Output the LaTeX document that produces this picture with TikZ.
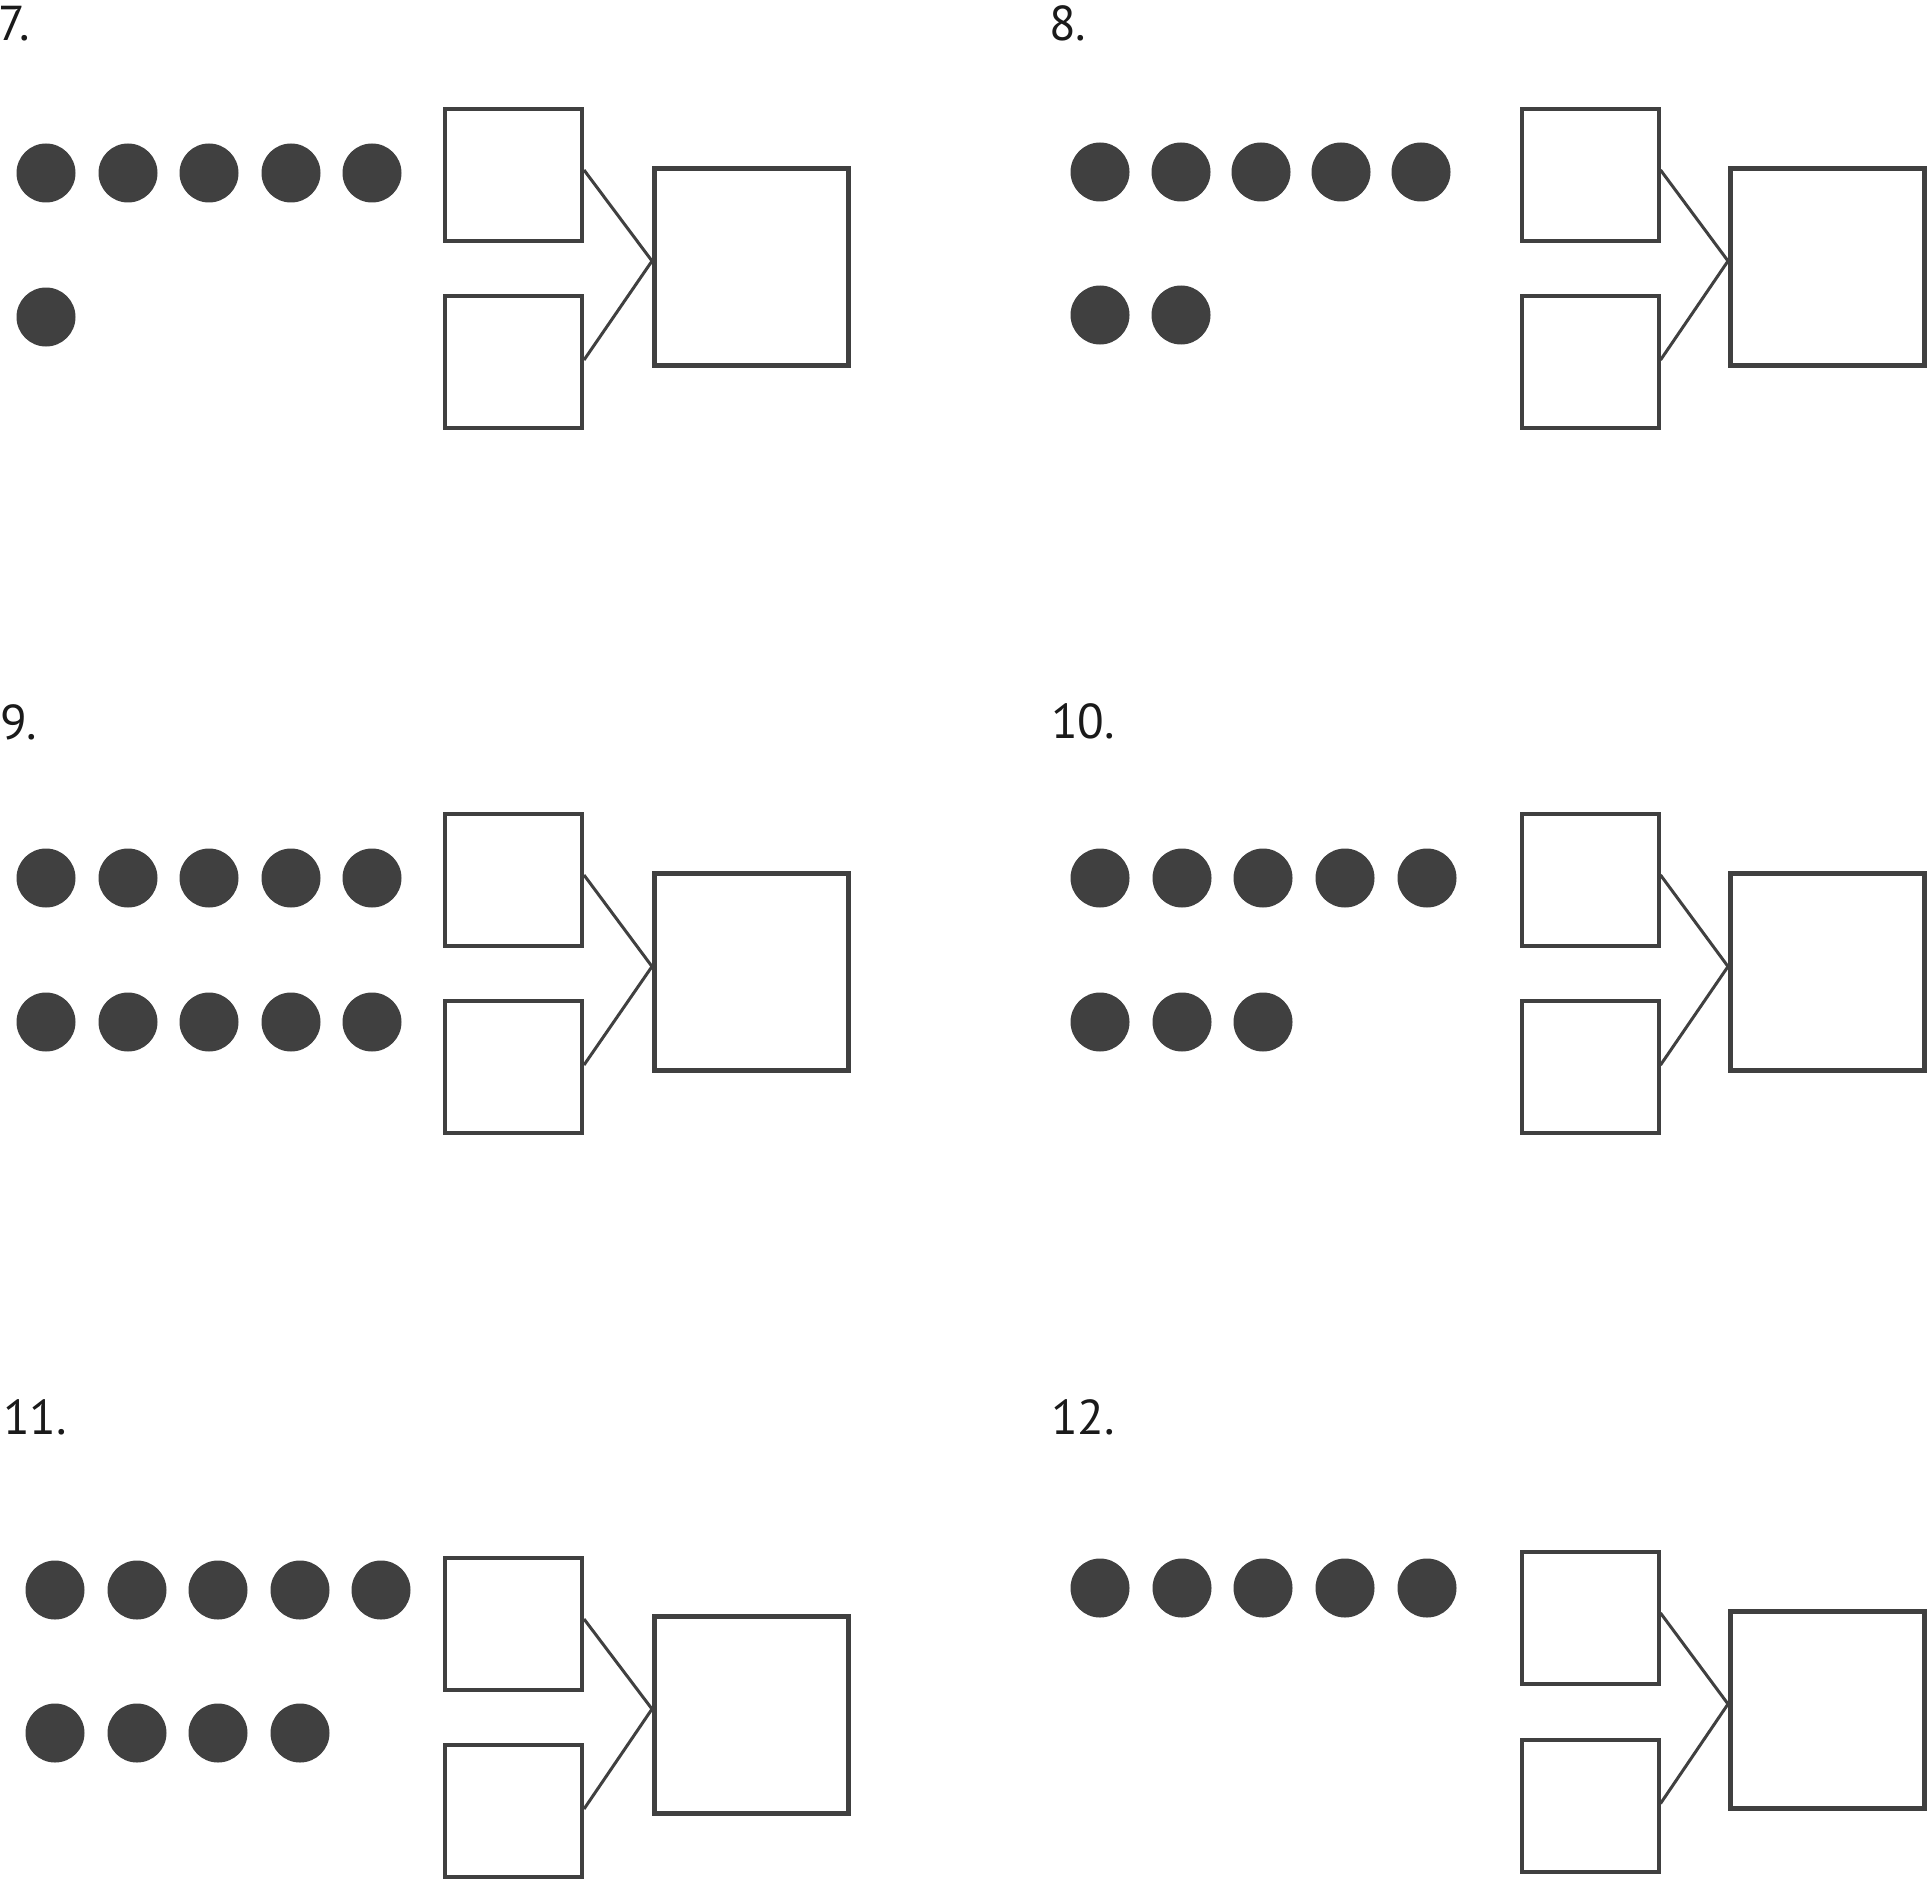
\documentclass[tikz,border=0pt]{standalone}
\usepackage{fontspec}
\setmainfont{PT Sans}
\definecolor{ink}{HTML}{404040}
\definecolor{txt}{HTML}{1A1A1A}
\tikzset{
  dot/.style={circle,fill=ink,draw=none,minimum size=59pt,inner sep=0pt},
  smallbox/.style={rectangle,draw=ink,line width=4pt,minimum width=137pt,minimum height=132pt,inner sep=0pt},
  bigbox/.style={rectangle,draw=ink,line width=5pt,minimum width=194pt,minimum height=197pt,inner sep=0pt},
  link/.style={draw=ink,line width=3pt,line join=miter},
  lbl/.style={anchor=base west,inner sep=0pt,text=txt,font=\fontsize{49}{54}\selectfont}
}
\begin{document}
\begin{tikzpicture}[x=1pt,y=-1pt]
\useasboundingbox[fill=white] (0,0) rectangle (1932,1886);

% ---------- labels ----------
\node[lbl] (l7) at (-2,41) {7.};
\node[lbl] (l8) at (1049,41) {8.};
\node[lbl] (l9) at (0,739) {9.};
\node[lbl] (l10) at (1051,738) {10.};
\node[lbl] (l11) at (3,1434) {11.};
\node[lbl] (l12) at (1051,1434) {12.};

% ---------- panel 7 ----------
\foreach \x [count=\i] in {46,128,209,291,372} \node[dot] (p7a\i) at (\x,173) {};
\node[dot] (p7b1) at (46,317) {};
\node[smallbox] (t7) at (513.5,175) {};
\node[smallbox] (s7) at (513.5,362) {};
\node[bigbox] (g7) at (751.5,267) {};
\draw[link] ([yshift=5pt]t7.east) -- ([yshift=6pt]g7.west) -- ([yshift=2pt]s7.east);

% ---------- panel 8 ----------
\foreach \x [count=\i] in {1100,1181,1261,1341,1421} \node[dot] (p8a\i) at (\x,172) {};
\foreach \x [count=\i] in {1100,1181} \node[dot] (p8b\i) at (\x,315) {};
\node[smallbox] (t8) at (1590,175) {};
\node[smallbox] (s8) at (1590,362) {};
\node[bigbox] (g8) at (1827.5,267) {};
\draw[link] ([yshift=5pt]t8.east) -- ([yshift=6pt]g8.west) -- ([yshift=2pt]s8.east);

% ---------- panel 9 ----------
\foreach \x [count=\i] in {46,128,209,291,372} \node[dot] (p9a\i) at (\x,878) {};
\foreach \x [count=\i] in {46,128,209,291,372} \node[dot] (p9b\i) at (\x,1022) {};
\node[smallbox] (t9) at (513.5,880) {};
\node[smallbox] (s9) at (513.5,1067) {};
\node[bigbox] (g9) at (751.5,971.5) {};
\draw[link] ([yshift=5pt]t9.east) -- ([yshift=5pt]g9.west) -- ([yshift=2pt]s9.east);

% ---------- panel 10 ----------
\foreach \x [count=\i] in {1100,1182,1263,1345,1427} \node[dot] (p10a\i) at (\x,878) {};
\foreach \x [count=\i] in {1100,1182,1263} \node[dot] (p10b\i) at (\x,1022) {};
\node[smallbox] (t10) at (1590,880) {};
\node[smallbox] (s10) at (1590,1067) {};
\node[bigbox] (g10) at (1827.5,971.5) {};
\draw[link] ([yshift=5pt]t10.east) -- ([yshift=5pt]g10.west) -- ([yshift=2pt]s10.east);

% ---------- panel 11 ----------
\foreach \x [count=\i] in {55,137,218,300,381} \node[dot] (p11a\i) at (\x,1590) {};
\foreach \x [count=\i] in {55,137,218,300} \node[dot] (p11b\i) at (\x,1733) {};
\node[smallbox] (t11) at (513.5,1624) {};
\node[smallbox] (s11) at (513.5,1811) {};
\node[bigbox] (g11) at (751.5,1715) {};
\draw[link] ([yshift=5pt]t11.east) -- ([yshift=6pt]g11.west) -- ([yshift=2pt]s11.east);

% ---------- panel 12 ----------
\foreach \x [count=\i] in {1100,1182,1263,1345,1427} \node[dot] (p12a\i) at (\x,1588) {};
\node[smallbox] (t12) at (1590,1618) {};
\node[smallbox] (s12) at (1590,1805.5) {};
\node[bigbox] (g12) at (1827.5,1710) {};
\draw[link] ([yshift=5pt]t12.east) -- ([yshift=6pt]g12.west) -- ([yshift=2pt]s12.east);
\end{tikzpicture}
\end{document}
